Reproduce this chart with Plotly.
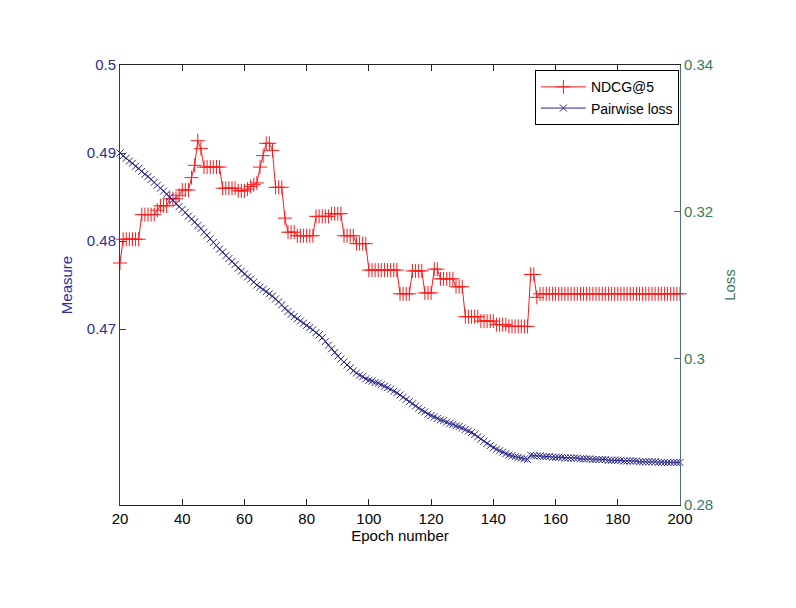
import plotly.graph_objects as go

epochs = list(range(20, 201))

ndcg5 = [
    0.4775,
    0.4802, 0.4802, 0.4802, 0.4802, 0.4802, 0.4802,          # 21-26
    0.4830, 0.4830, 0.4830, 0.4830, 0.4830,                  # 27-31
    0.4835,                                                  # 32
    0.4840, 0.4840, 0.4840,                                  # 33-35
    0.4848, 0.4848, 0.4848,                                  # 36-38
    0.4852,                                                  # 39
    0.4858, 0.4858, 0.4858,                                  # 40-42
    0.4872, 0.4886, 0.4914, 0.4905,                          # 43-46
    0.4884, 0.4884, 0.4884, 0.4884, 0.4884, 0.4884,          # 47-52
    0.4860, 0.4860, 0.4860, 0.4860, 0.4860,                  # 53-57
    0.4857, 0.4857, 0.4857,                                  # 58-60
    0.4859, 0.4862, 0.4864, 0.4866,                          # 61-64
    0.4884, 0.4897, 0.4911, 0.4911, 0.4903,                  # 65-69
    0.4861, 0.4861, 0.4861,                                  # 70-72
    0.4826,                                                  # 73
    0.4810, 0.4810, 0.4810,                                  # 74-76
    0.4806, 0.4806, 0.4806, 0.4806, 0.4806, 0.4806,          # 77-82
    0.4828, 0.4828, 0.4828, 0.4828, 0.4828,                  # 83-87
    0.4831, 0.4831, 0.4831, 0.4831,                          # 88-91
    0.4806, 0.4806, 0.4806, 0.4806,                          # 92-95
    0.4797, 0.4797, 0.4797, 0.4797,                          # 96-99
    0.4767, 0.4767, 0.4767, 0.4767, 0.4767,
    0.4767, 0.4767, 0.4767, 0.4767, 0.4767,                  # 100-109
    0.4740, 0.4740, 0.4740, 0.4740,                          # 110-113
    0.4766, 0.4766, 0.4766, 0.4766,                          # 114-117
    0.4741, 0.4741, 0.4741,                                  # 118-120
    0.4768, 0.4768,                                          # 121-122
    0.4757, 0.4757, 0.4757, 0.4757, 0.4757,                  # 123-127
    0.4748, 0.4748, 0.4748,                                  # 128-130
    0.4714, 0.4714, 0.4714, 0.4714, 0.4714,                  # 131-135
    0.4709, 0.4709, 0.4709, 0.4709, 0.4709,                  # 136-140
    0.4705, 0.4705, 0.4705, 0.4705,                          # 141-144
    0.4703, 0.4703, 0.4703, 0.4703, 0.4703, 0.4703, 0.4703,  # 145-151
    0.4762, 0.4762,                                          # 152-153
    0.4736,                                                  # 154
    0.4740, 0.4740, 0.4740, 0.4740, 0.4740, 0.4740, 0.4740, 0.4740, 0.4740, 0.4740,
    0.4740, 0.4740, 0.4740, 0.4740, 0.4740, 0.4740, 0.4740, 0.4740, 0.4740, 0.4740,
    0.4740, 0.4740, 0.4740, 0.4740, 0.4740, 0.4740, 0.4740, 0.4740, 0.4740, 0.4740,
    0.4740, 0.4740, 0.4740, 0.4740, 0.4740, 0.4740, 0.4740, 0.4740, 0.4740, 0.4740,
    0.4740, 0.4740, 0.4740, 0.4740, 0.4740, 0.4740,          # 155-200
]

pairwise_loss = [
    0.3280, 0.3276, 0.3273, 0.3269, 0.3266, 0.3262, 0.3259, 0.3255, 0.3251, 0.3248,
    0.3244, 0.3240, 0.3236, 0.3232, 0.3228, 0.3224, 0.3220, 0.3216, 0.3211, 0.3207,
    0.3203, 0.3199, 0.3194, 0.3190, 0.3186, 0.3181, 0.3177, 0.3172, 0.3168, 0.3163,
    0.3158, 0.3154, 0.3149, 0.3145, 0.3140, 0.3136, 0.3132, 0.3128, 0.3123, 0.3119,
    0.3115, 0.3111, 0.3108, 0.3104, 0.3100, 0.3097, 0.3094, 0.3091, 0.3088, 0.3085,
    0.3081, 0.3077, 0.3073, 0.3068, 0.3064, 0.3060, 0.3057, 0.3054, 0.3051, 0.3048,
    0.3045, 0.3042, 0.3039, 0.3035, 0.3032, 0.3028, 0.3023, 0.3018, 0.3013, 0.3008,
    0.3003, 0.2999, 0.2995, 0.2991, 0.2987, 0.2983, 0.2980, 0.2977, 0.2975, 0.2972,
    0.2970, 0.2969, 0.2967, 0.2966, 0.2964, 0.2962, 0.2960, 0.2958, 0.2955, 0.2953,
    0.2950, 0.2947, 0.2944, 0.2941, 0.2938, 0.2935, 0.2932, 0.2929, 0.2927, 0.2924,
    0.2922, 0.2920, 0.2918, 0.2916, 0.2915, 0.2913, 0.2911, 0.2910, 0.2908, 0.2907,
    0.2905, 0.2903, 0.2901, 0.2899, 0.2896, 0.2893, 0.2890, 0.2887, 0.2884, 0.2881,
    0.2878, 0.2876, 0.2874, 0.2872, 0.2870, 0.2868, 0.2867, 0.2866, 0.2865, 0.2864,
    0.2863, 0.2862, 0.2868, 0.2867, 0.2867, 0.2867, 0.2866, 0.2866, 0.2866, 0.2865,
    0.2865, 0.2865, 0.2865, 0.2864, 0.2864, 0.2864, 0.2864, 0.2864, 0.2863, 0.2863,
    0.2863, 0.2863, 0.2862, 0.2862, 0.2862, 0.2862, 0.2862, 0.2861, 0.2861, 0.2861,
    0.2861, 0.2861, 0.2860, 0.2860, 0.2860, 0.2860, 0.2860, 0.2859, 0.2859, 0.2859,
    0.2859, 0.2859, 0.2859, 0.2858, 0.2858, 0.2858, 0.2858, 0.2858, 0.2858, 0.2858,
    0.2858,
]

x_ticks = [20, 40, 60, 80, 100, 120, 140, 160, 180, 200]
measure_ticks = [0.47, 0.48, 0.49, 0.5]
measure_tick_text = ["0.47", "0.48", "0.49", "0.5"]
loss_ticks = [0.28, 0.30, 0.32, 0.34]
loss_tick_text = ["0.28", "0.3", "0.32", "0.34"]

RED = "#ff1a1a"
BLUE_LINE = "#2a2a8a"
BLUE_AX = "#2e2e9a"
GREEN = "#3b7a57"
RIGHT_LINE = "#4f6a82"
FONT = "Liberation Sans, Arial, sans-serif"

fig = go.Figure()
fig.add_trace(go.Scatter(
    x=epochs, y=ndcg5, name="NDCG@5", mode="lines+markers",
    line=dict(color=RED, width=1),
    marker=dict(symbol="cross-thin", size=10, line=dict(color=RED, width=1)),
    yaxis="y", cliponaxis=False,
))
fig.add_trace(go.Scatter(
    x=epochs, y=pairwise_loss, name="Pairwise loss", mode="lines+markers",
    line=dict(color=BLUE_LINE, width=1),
    marker=dict(symbol="x-thin", size=7, line=dict(color=BLUE_LINE, width=1)),
    yaxis="y2", cliponaxis=False,
))

fig.update_layout(
    width=796, height=608,
    margin=dict(l=120, r=116, t=65, b=103),
    paper_bgcolor="white", plot_bgcolor="white",
    font=dict(family=FONT, size=15, color="black"),
    showlegend=True,
    legend=dict(
        x=0.998, y=0.988, xanchor="right", yanchor="top",
        bgcolor="white", bordercolor="black", borderwidth=1,
        font=dict(family=FONT, size=14, color="black"),
        tracegroupgap=0, itemwidth=45,
    ),
    xaxis=dict(
        range=[20, 200], tickvals=x_ticks, ticks="inside", ticklen=6,
        tickcolor="#222222", showline=True, linecolor="#222222", linewidth=1,
        mirror="ticks", showgrid=False, zeroline=False,
        tickfont=dict(size=15, color="black"),
        title=dict(text="Epoch number", font=dict(size=15, color="black"), standoff=4),
    ),
    yaxis=dict(
        range=[0.45, 0.5], tickvals=measure_ticks, ticktext=measure_tick_text,
        ticks="inside", ticklen=6, tickcolor=BLUE_AX,
        showline=True, linecolor=BLUE_AX, linewidth=1,
        showgrid=False, zeroline=False,
        tickfont=dict(size=15, color=BLUE_AX),
        title=dict(text="Measure", font=dict(size=15, color=BLUE_AX), standoff=10),
    ),
    yaxis2=dict(
        range=[0.28, 0.34], tickvals=loss_ticks, ticktext=loss_tick_text,
        overlaying="y", side="right",
        ticks="inside", ticklen=6, tickcolor=RIGHT_LINE,
        showline=True, linecolor=RIGHT_LINE, linewidth=1,
        showgrid=False, zeroline=False,
        tickfont=dict(size=15, color=GREEN),
        title=dict(text="Loss", font=dict(size=15, color=GREEN), standoff=12),
    ),
)

fig.write_html("out.html")
